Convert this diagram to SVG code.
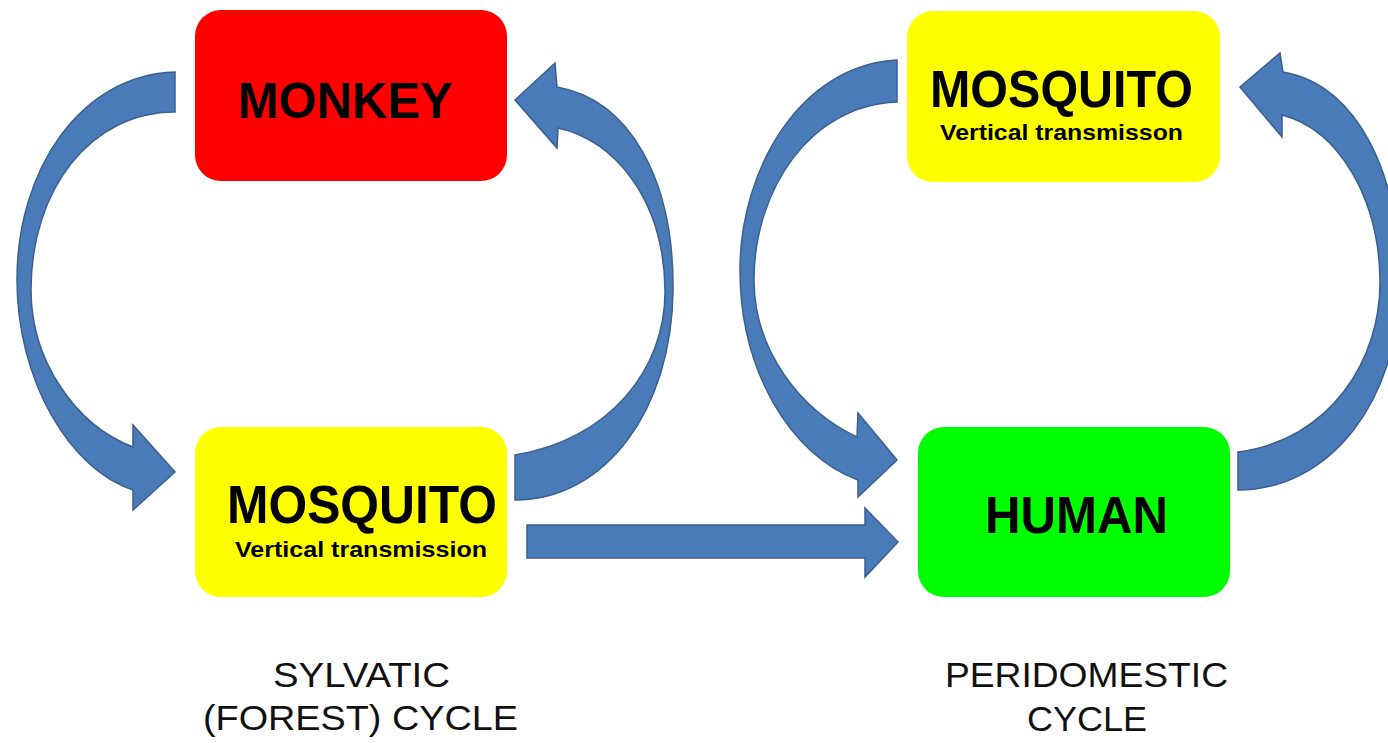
<svg xmlns="http://www.w3.org/2000/svg" width="1388" height="743" viewBox="0 0 1388 743">
<defs>
<style>
.box{stroke:none}
.big{font-family:"Liberation Sans",Arial,sans-serif;font-weight:bold;fill:#000}
.sub{font-family:"Liberation Sans",Arial,sans-serif;font-weight:bold;fill:#000;font-size:22px}
.cap{font-family:"Liberation Sans",Arial,sans-serif;fill:#111;font-size:35px}
.arr{fill:#4a7bb9;stroke:#3a5f8e;stroke-width:1.5;stroke-linejoin:miter}
</style>
</defs>
<rect width="1388" height="743" fill="#ffffff"/>
<g id="connectors">
<path class="arr" d="M 175 72 C 80 75, 17 170, 17 280 C 17 380, 70 470, 133 490 L 133 510 L 175 472 L 133 425 L 133 447 C 75 425, 31 360, 31 290 C 31 190, 90 112, 175 112 Z"/>
<path class="arr" d="M 515 455 C 608 440, 666 370, 665 290 C 664 200, 615 140, 558 128 L 557 148 L 515 100 L 555 63 L 557 87 C 630 100, 674 180, 673 290 C 672 410, 605 500, 515 500 Z"/>
<path class="arr" d="M 897 60 C 800 65, 740 170, 740 270 C 740 370, 790 455, 858 480 L 858 497 L 897 460 L 858 413 L 857 437 C 800 410, 754 350, 754 280 C 754 190, 810 105, 897 102 Z"/>
<path class="arr" d="M 1238 452 C 1330 440, 1381 360, 1380 280 C 1379 200, 1340 130, 1282 115 L 1282 137 L 1240 87 L 1280 53 L 1283 72 C 1360 85, 1400 180, 1400 280 C 1400 400, 1330 490, 1238 490 Z"/>
<path class="arr" d="M 527 525 L 865 525 L 865 508 L 898 542 L 865 577 L 865 558 L 527 558 Z"/>
</g>
<g id="monkey">
<rect class="box" x="195" y="10" width="312" height="171" rx="26" fill="#ff0000"/>
<text class="big" x="238" y="118" font-size="50" textLength="215" lengthAdjust="spacingAndGlyphs">MONKEY</text>
</g>
<g id="mosquito-sylvatic">
<rect class="box" x="195" y="427" width="312" height="170" rx="26" fill="#ffff00"/>
<text class="big" x="227" y="523" font-size="54" textLength="270" lengthAdjust="spacingAndGlyphs">MOSQUITO</text>
<text class="sub" x="235" y="557" textLength="252" lengthAdjust="spacingAndGlyphs">Vertical transmission</text>
</g>
<g id="mosquito-peridomestic">
<rect class="box" x="907" y="11" width="313" height="171" rx="26" fill="#ffff00"/>
<text class="big" x="930" y="107" font-size="51" textLength="263" lengthAdjust="spacingAndGlyphs">MOSQUITO</text>
<text class="sub" x="940" y="140" textLength="243" lengthAdjust="spacingAndGlyphs">Vertical transmisson</text>
</g>
<g id="human">
<rect class="box" x="918" y="427" width="312" height="170" rx="26" fill="#00ff00"/>
<text class="big" x="985" y="533" font-size="51" textLength="183" lengthAdjust="spacingAndGlyphs">HUMAN</text>
</g>
<g id="captions">
<text class="cap" x="273" y="687" textLength="177" lengthAdjust="spacingAndGlyphs">SYLVATIC</text>
<text class="cap" x="203" y="730" textLength="315" lengthAdjust="spacingAndGlyphs">(FOREST) CYCLE</text>
<text class="cap" x="945" y="687" textLength="283" lengthAdjust="spacingAndGlyphs">PERIDOMESTIC</text>
<text class="cap" x="1027" y="731" textLength="120" lengthAdjust="spacingAndGlyphs">CYCLE</text>
</g>
</svg>
